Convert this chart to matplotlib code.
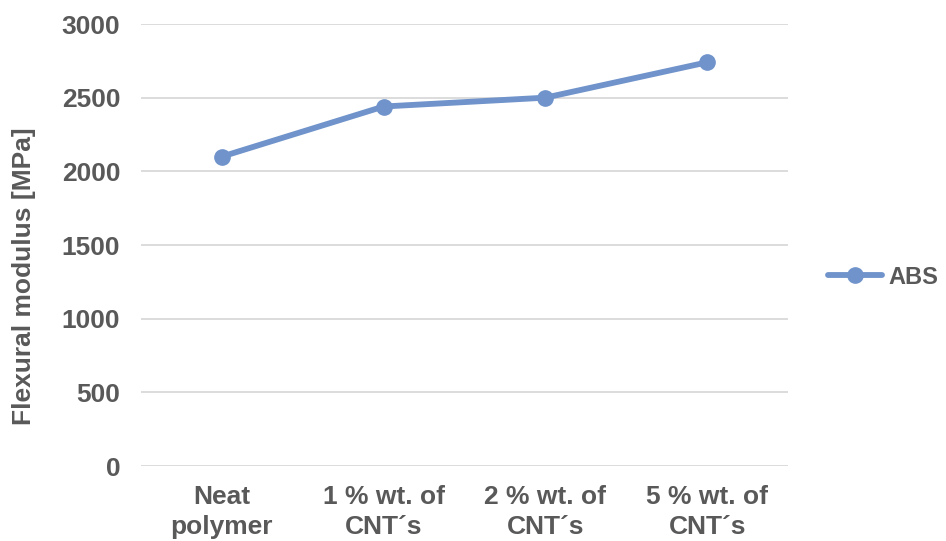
import matplotlib
matplotlib.use("Agg")
import matplotlib.pyplot as plt

categories = ["Neat\npolymer", "1 % wt. of\nCNT´s", "2 % wt. of\nCNT´s", "5 % wt. of\nCNT´s"]
abs_values = [2100, 2440, 2500, 2740]
y_ticks = [0, 500, 1000, 1500, 2000, 2500, 3000]
series_name = "ABS"
y_label = "Flexural modulus [MPa]"

text_color = "#595959"
line_color = "#6F93CA"
grid_color = "#D9D9D9"

plt.rcParams["font.family"] = ["Liberation Sans", "DejaVu Sans"]

W, H = 946, 541
fig = plt.figure(figsize=(W / 100, H / 100), dpi=100)
ax = fig.add_axes([141 / W, 1 - 466 / H, (788 - 141) / W, (466 - 24) / H])

x = list(range(len(categories)))
ax.plot(x, abs_values, color=line_color, linewidth=4.2, marker="o", markersize=11,
        solid_capstyle="round", label=series_name, zorder=3)

ax.set_xlim(-0.5, len(categories) - 0.5)
ax.set_ylim(0, 3000)
ax.set_yticks(y_ticks)
ax.set_yticklabels([str(v) for v in y_ticks], fontsize=19, fontweight="bold", color=text_color)
ax.set_xticks(x)
ax.set_xticklabels(categories, fontsize=19, fontweight="bold", color=text_color,
                   linespacing=1.3)
ax.tick_params(axis="both", length=0)
ax.tick_params(axis="y", pad=15)
ax.tick_params(axis="x", pad=14)

ax.grid(axis="y", color=grid_color, linewidth=1.3)
ax.set_axisbelow(True)
for s in ax.spines.values():
    s.set_visible(False)

fig.text(24 / W, 1 - 276 / H, y_label, rotation=90, ha="center", va="center",
         fontsize=19, fontweight="bold", color=text_color)

leg = ax.legend(loc="center left", bbox_to_anchor=(828 / W, 1 - 277 / H),
                bbox_transform=fig.transFigure, frameon=False,
                borderaxespad=0, borderpad=0,
                handlelength=2.3, handletextpad=0.25,
                prop={"size": 17, "weight": "bold"})
for t in leg.get_texts():
    t.set_color(text_color)

fig.savefig("out.png", dpi=100)
